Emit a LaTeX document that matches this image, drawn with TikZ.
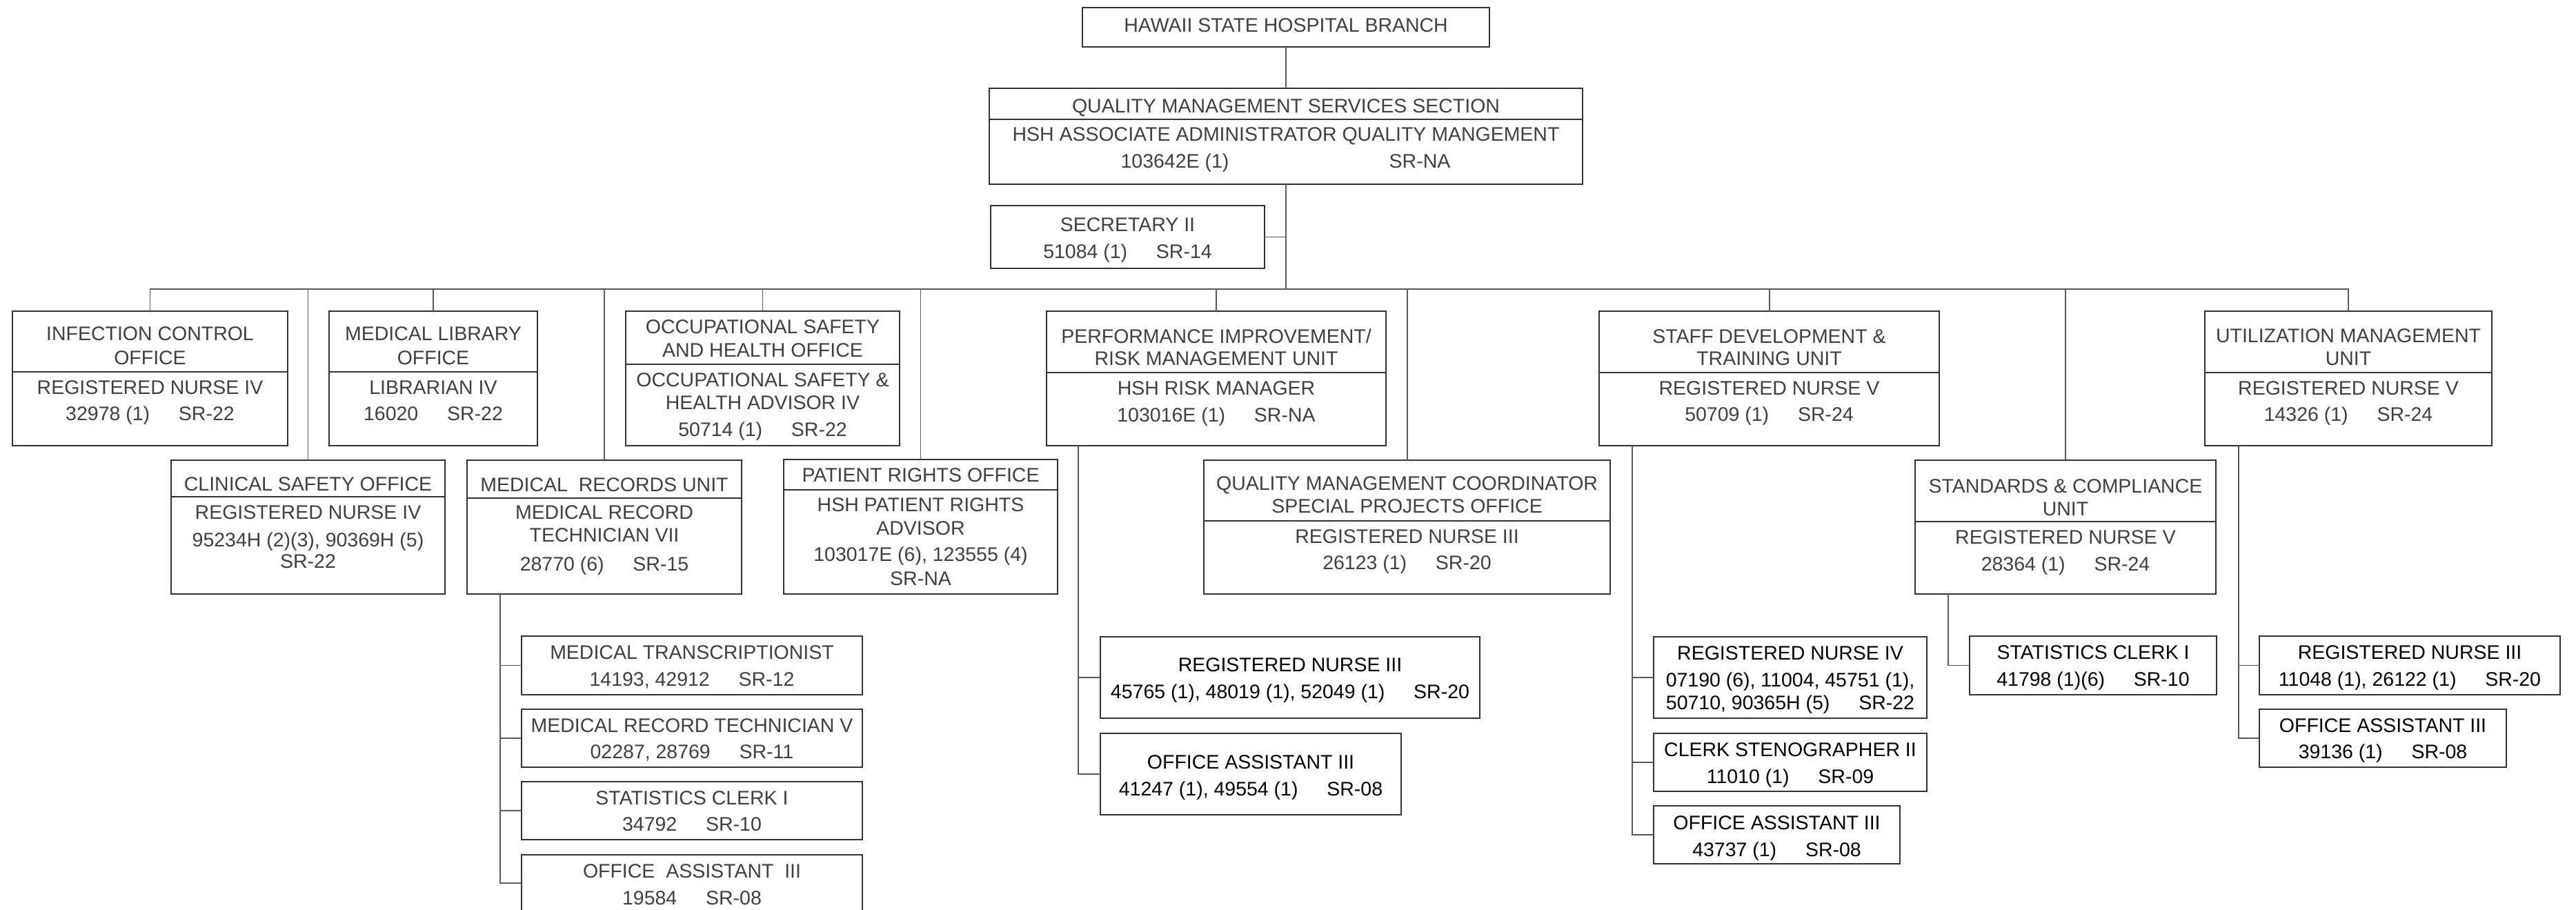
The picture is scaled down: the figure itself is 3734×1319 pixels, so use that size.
\documentclass[tikz,border=0pt]{standalone}
\usepackage{fontspec}
\setmainfont{Liberation Sans}
\definecolor{txtgray}{RGB}{64,64,64}
\definecolor{boxline}{RGB}{51,51,51}
\definecolor{conline}{RGB}{90,90,90}
\newcounter{tln}
\newcommand\tl[4][tx]{\stepcounter{tln}\node[#1] (tl\arabic{tln}) at (#2,#3) {#4};}
\newcommand\gp{\hspace{11.9pt}}
\newcommand\obox[5]{%
  \pgfmathsetmacro\bw{(#4-#2)*0.01}%
  \pgfmathsetmacro\bh{(#5-#3)*0.01}%
  \node[orgbox, minimum width=\bw cm, minimum height=\bh cm] (#1) at ({(#2+#4)/2},{(#3+#5)/2}) {};}
\newcommand\dv[2]{\coordinate (dvtmp) at (0,#2); \draw[boxln] (#1.west |- dvtmp) -- (#1.east |- dvtmp);}
\tikzset{
  orgbox/.style={draw=boxline, line width=0.65pt, inner sep=0pt, outer sep=0pt},
  boxln/.style={draw=boxline, line width=0.65pt},
  conn/.style={draw=conline, line width=0.55pt},
  tx/.style={font=\fontsize{8.1}{9.7}\selectfont, text=txtgray, inner sep=0pt, text height=5.8pt, text depth=0pt, anchor=center},
  txb/.style={tx, text=black}
}
\begin{document}
\begin{tikzpicture}[x=0.01cm,y=-0.01cm]
\useasboundingbox (0,0) rectangle (3734,1319);
\fill[white] (0,0) rectangle (3734,1319);
\clip (0,0) rectangle (3734,1319);
% boxes
\obox{hsb}{1569}{11}{2159}{68}
\obox{qms}{1434}{128}{2294}{267}
\obox{sec}{1436}{298}{1833}{389}
\obox{ico}{18}{451}{417}{646}
\obox{lib}{477}{451}{779}{646}
\obox{occ}{907}{451}{1304}{646}
\obox{pi}{1517}{451}{2009}{646}
\obox{sdt}{2318}{451}{2811}{646}
\obox{um}{3196}{451}{3612}{646}
\obox{cso}{248}{667}{645}{861}
\obox{mru}{677}{667}{1075}{861}
\obox{pro}{1136}{666}{1533}{861}
\obox{qmc}{1745}{667}{2334}{861}
\obox{sco}{2776}{667}{3212}{861}
\obox{mt}{756}{922}{1250}{1007}
\obox{mrtv}{756}{1028}{1250}{1112}
\obox{sca}{756}{1133}{1250}{1217}
\obox{oaa}{756}{1239}{1250}{1321}
\obox{rna}{1595}{923}{2145}{1041}
\obox{oab}{1595}{1063}{2031}{1181}
\obox{rniv}{2397}{923}{2793}{1041}
\obox{cst}{2397}{1063}{2793}{1147}
\obox{oac}{2397}{1168}{2754}{1252}
\obox{scb}{2855}{922}{3213}{1007}
\obox{rnb}{3275}{922}{3711}{1007}
\obox{oad}{3275}{1028}{3633}{1112}
% dividers
\dv{qms}{173}
\dv{ico}{539}
\dv{lib}{539}
\dv{occ}{528}
\dv{pi}{540}
\dv{sdt}{540}
\dv{um}{540}
\dv{cso}{720}
\dv{mru}{722}
\dv{pro}{710}
\dv{qmc}{755}
\dv{sco}{756}
% connectors
\coordinate (bus) at (1864,419);
\coordinate (busL) at (217,419);
\coordinate (busR) at (3405,419);
\draw[conn] (busL) -- (busR);
\draw[conn] (hsb.south) -- (qms.north);
\draw[conn] (qms.south) -- (bus);
\draw[conn] (sec.east) -- (sec.east -| bus);
\foreach \n in {ico,cso,lib,mru,occ,pro,pi,qmc,sdt,sco,um}
  \draw[conn] (\n.north) -- (\n.north |- bus);
\coordinate (mrx) at (725,861);
\coordinate (pix) at (1563,646);
\coordinate (sdx) at (2366,646);
\coordinate (scx) at (2824,861);
\coordinate (umx) at (3245,646);
\foreach \n in {mt,mrtv,sca,oaa} \draw[conn] (mrx) |- (\n.west);
\foreach \n in {rna,oab} \draw[conn] (pix) |- (\n.west);
\foreach \n in {rniv,cst,oac} \draw[conn] (sdx) |- (\n.west);
\draw[conn] (scx) |- (scb.west);
\foreach \n in {rnb,oad} \draw[conn] (umx) |- (\n.west);
% texts
\tl{1864}{36}{HAWAII STATE HOSPITAL BRANCH}
\tl{1864}{153}{QUALITY MANAGEMENT SERVICES SECTION}
\tl{1864}{194}{HSH ASSOCIATE ADMINISTRATOR QUALITY MANGEMENT}
\tl{1703}{233}{103642E (1)}
\tl{2058}{233}{SR-NA}
\tl{1634.5}{325}{SECRETARY II}
\tl{1634.5}{364}{51084 (1)\gp SR-14}
\tl{217.5}{483}{INFECTION CONTROL}
\tl{217.5}{518}{OFFICE}
\tl{217.5}{561}{REGISTERED NURSE IV}
\tl{217.5}{599}{32978 (1)\gp SR-22}
\tl{628}{483}{MEDICAL LIBRARY}
\tl{628}{518}{OFFICE}
\tl{628}{561}{LIBRARIAN IV}
\tl{628}{599}{16020\gp SR-22}
\tl{1105.5}{473}{OCCUPATIONAL SAFETY}
\tl{1105.5}{507}{AND HEALTH OFFICE}
\tl{1105.5}{550}{OCCUPATIONAL SAFETY \&}
\tl{1105.5}{583}{HEALTH ADVISOR IV}
\tl{1105.5}{622}{50714 (1)\gp SR-22}
\tl{1763}{487}{PERFORMANCE IMPROVEMENT/}
\tl{1763}{519}{RISK MANAGEMENT UNIT}
\tl{1763}{562}{HSH RISK MANAGER}
\tl{1763}{601}{103016E (1)\gp SR-NA}
\tl{2564.5}{487}{STAFF DEVELOPMENT \&}
\tl{2564.5}{519}{TRAINING UNIT}
\tl{2564.5}{562}{REGISTERED NURSE V}
\tl{2564.5}{600}{50709 (1)\gp SR-24}
\tl{3404}{486}{UTILIZATION MANAGEMENT}
\tl{3404}{519}{UNIT}
\tl{3404}{562}{REGISTERED NURSE V}
\tl{3404}{600}{14326 (1)\gp SR-24}
\tl{446.5}{701}{CLINICAL SAFETY OFFICE}
\tl{446.5}{742}{REGISTERED NURSE IV}
\tl{446.5}{782}{95234H (2)(3), 90369H (5)}
\tl{446.5}{813}{SR-22}
\tl{876}{702}{MEDICAL\ \ RECORDS UNIT}
\tl{876}{742}{MEDICAL RECORD}
\tl{876}{775}{TECHNICIAN VII}
\tl{876}{817}{28770 (6)\gp SR-15}
\tl{1334.5}{688}{PATIENT RIGHTS OFFICE}
\tl{1334.5}{731}{HSH PATIENT RIGHTS}
\tl{1334.5}{765}{ADVISOR}
\tl{1334.5}{803}{103017E (6), 123555 (4)}
\tl{1334.5}{838}{SR-NA}
\tl{2039.5}{700}{QUALITY MANAGEMENT COORDINATOR}
\tl{2039.5}{733}{SPECIAL PROJECTS OFFICE}
\tl{2039.5}{777}{REGISTERED NURSE III}
\tl{2039.5}{815}{26123 (1)\gp SR-20}
\tl{2994}{704}{STANDARDS \& COMPLIANCE}
\tl{2994}{737}{UNIT}
\tl{2994}{778}{REGISTERED NURSE V}
\tl{2994}{817}{28364 (1)\gp SR-24}
\tl{1003}{945}{MEDICAL TRANSCRIPTIONIST}
\tl{1003}{984}{14193, 42912\gp SR-12}
\tl{1003}{1051}{MEDICAL RECORD TECHNICIAN V}
\tl{1003}{1089}{02287, 28769\gp SR-11}
\tl{1003}{1156}{STATISTICS CLERK I}
\tl{1003}{1194}{34792\gp SR-10}
\tl{1003}{1262}{OFFICE\ \ ASSISTANT\ \ III}
\tl{1003}{1301}{19584\gp SR-08}
\tl[txb]{1870}{963}{REGISTERED NURSE III}
\tl[txb]{1870}{1002}{45765 (1), 48019 (1), 52049 (1)\gp SR-20}
\tl[txb]{1813}{1104}{OFFICE ASSISTANT III}
\tl[txb]{1813}{1143}{41247 (1), 49554 (1)\gp SR-08}
\tl[txb]{2595}{946}{REGISTERED NURSE IV}
\tl[txb]{2595}{985}{07190 (6), 11004, 45751 (1),}
\tl[txb]{2595}{1018}{50710, 90365H (5)\gp SR-22}
\tl[txb]{2595}{1086}{CLERK STENOGRAPHER II}
\tl[txb]{2595}{1125}{11010 (1)\gp SR-09}
\tl[txb]{2575.5}{1192}{OFFICE ASSISTANT III}
\tl[txb]{2575.5}{1231}{43737 (1)\gp SR-08}
\tl[txb]{3034}{945}{STATISTICS CLERK I}
\tl[txb]{3034}{984}{41798 (1)(6)\gp SR-10}
\tl[txb]{3493}{945}{REGISTERED NURSE III}
\tl[txb]{3493}{984}{11048 (1), 26122 (1)\gp SR-20}
\tl[txb]{3454}{1051}{OFFICE ASSISTANT III}
\tl[txb]{3454}{1089}{39136 (1)\gp SR-08}
\end{tikzpicture}
\end{document}
